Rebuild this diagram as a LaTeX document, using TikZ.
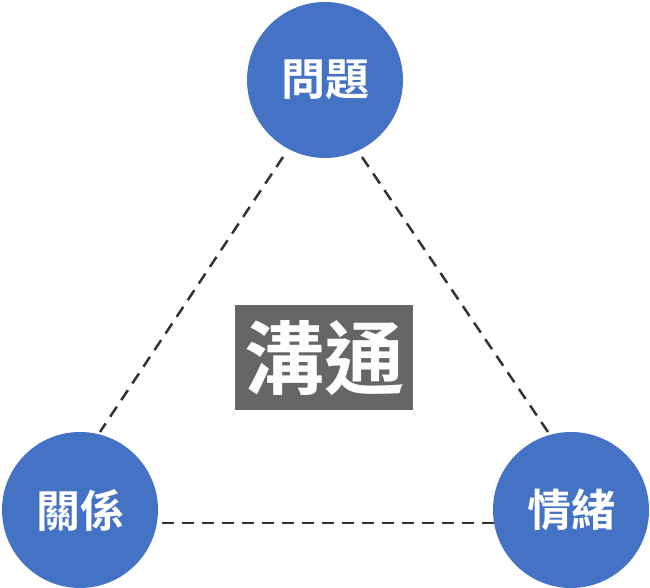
\documentclass[tikz,border=0pt]{standalone}
\usepackage{fontspec}
\usetikzlibrary{calc}
\newfontfamily\cjk{Noto Sans CJK TC Bold}
\definecolor{cblue}{HTML}{4472C4}
\definecolor{cgray}{HTML}{666666}
\begin{document}
\begin{tikzpicture}[x=1pt,y=1pt,
  circ/.style={circle,fill=cblue,minimum size=156pt,inner sep=0pt,text=white,font=\cjk\fontsize{44}{48}\selectfont},
  link/.style={draw=black!80,dash pattern=on 12pt off 8pt,line width=2.5pt}]
\useasboundingbox (0,0) rectangle (650,588);
\node[circ] (q) at (325,508) {問題};
\node[circ] (r) at (80,78) {關係};
\node[circ] (e) at (571,78) {情緒};
\node[fill=cgray,minimum width=178pt,minimum height=105pt,inner sep=0pt,text=white,font=\cjk\fontsize{80}{84}\selectfont] (c) at (324,230) {溝通};
\draw[link] ($(q)+(-42,-77)$) -- ($(r)+(20,78)$);
\draw[link] ($(q)+(37,-77)$) -- ($(e)+(-23,78)$);
\draw[link] ($(r)+(82,-13)$) -- ($(e)+(-76,-13)$);
\end{tikzpicture}
\end{document}
